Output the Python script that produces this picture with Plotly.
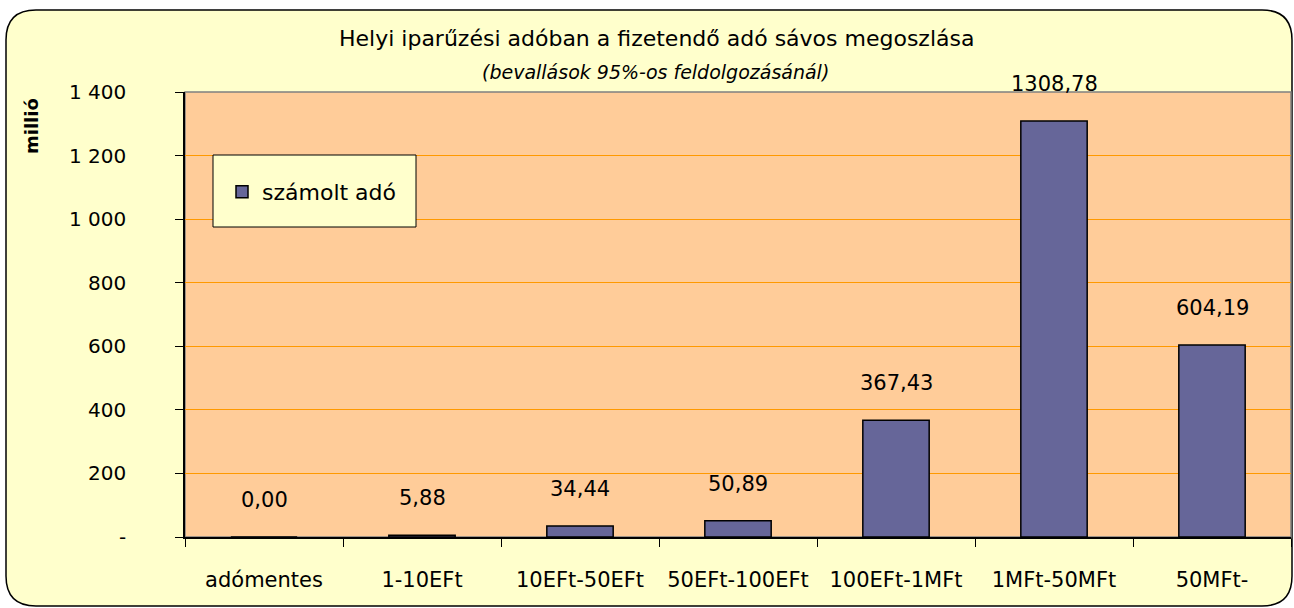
import plotly.graph_objects as go

categories = ["adómentes", "1-10EFt", "10EFt-50EFt", "50EFt-100EFt", "100EFt-1MFt", "1MFt-50MFt", "50MFt-"]
values = [0.00, 5.88, 34.44, 50.89, 367.43, 1308.78, 604.19]
value_labels = ["0,00", "5,88", "34,44", "50,89", "367,43", "1308,78", "604,19"]
y_tickvals = [0, 200, 400, 600, 800, 1000, 1200, 1400]
y_ticktext = ["-", "200", "400", "600", "800", "1 000", "1 200", "1 400"]
series_name = "számolt adó"
title = "Helyi iparűzési adóban a fizetendő adó sávos megoszlása"
subtitle = "(bevallások 95%-os feldolgozásánál)"
y_title = "millió"

W, H = 1294, 608
L, R, T, B = 185, 1291, 92, 537
FONT = "DejaVu Sans"


def px(x):
    return (x - L) / (R - L)


def py(y):
    return (B - y) / (B - T)


fig = go.Figure()
fig.add_trace(go.Bar(
    x=categories, y=values, name=series_name, width=0.42,
    marker=dict(color="#666699", line=dict(color="black", width=1.5)),
    showlegend=True,
))

annotations = []
for c, v, t in zip(categories, values, value_labels):
    annotations.append(dict(x=c, y=v, xref="x", yref="y", text=t, showarrow=False,
                            yanchor="middle", xanchor="center",
                            yshift=37, font=dict(family=FONT, size=21, color="black")))
annotations.append(dict(x=px(656), y=py(38), xref="paper", yref="paper", text=title,
                        xanchor="center", yanchor="middle",
                        showarrow=False, font=dict(family=FONT, size=22, color="black")))
annotations.append(dict(x=px(655), y=py(72), xref="paper", yref="paper", text="<i>" + subtitle + "</i>",
                        xanchor="center", yanchor="middle",
                        showarrow=False, font=dict(family=FONT, size=19, color="black")))
annotations.append(dict(x=px(31), y=py(126), xref="paper", yref="paper", text="<b>" + y_title + "</b>",
                        xanchor="center", yanchor="middle",
                        textangle=-90, showarrow=False, font=dict(family=FONT, size=18, color="black")))

# rounded outer frame
x0, x1, y0, y1 = px(6), px(1292), py(606), py(10)
r = 30
rx, ry = r / (R - L), r / (B - T)
path = (f"M {x0+rx},{y1} L {x1-rx},{y1} Q {x1},{y1} {x1},{y1-ry} "
        f"L {x1},{y0+ry} Q {x1},{y0} {x1-rx},{y0} "
        f"L {x0+rx},{y0} Q {x0},{y0} {x0},{y0+ry} "
        f"L {x0},{y1-ry} Q {x0},{y1} {x0+rx},{y1} Z")
shapes = [
    dict(type="path", path=path, xref="paper", yref="paper", fillcolor="#FFFFCC",
         line=dict(color="black", width=1.5), layer="below"),
    dict(type="rect", x0=0, x1=1, y0=0, y1=1, xref="paper", yref="paper",
         fillcolor="#FFCC99", line=dict(color="#808080", width=1.5), layer="below"),
    dict(type="rect", x0=px(213), x1=px(416), y0=py(227), y1=py(155), xref="paper", yref="paper",
         fillcolor="#FFFFCC", line=dict(color="black", width=1), layer="above"),
]

fig.update_layout(
    width=W, height=H,
    margin=dict(l=L, r=W - R, t=T, b=H - B),
    paper_bgcolor="white",
    plot_bgcolor="rgba(0,0,0,0)",
    font=dict(family=FONT, size=20, color="black"),
    shapes=shapes,
    annotations=annotations,
    showlegend=True,
    legend=dict(x=px(222), y=py(171), xanchor="left", yanchor="top",
                bgcolor="rgba(0,0,0,0)", borderwidth=0,
                font=dict(family=FONT, size=22, color="black")),
    xaxis=dict(type="category", tickson="boundaries", ticks="outside", ticklen=8,
               tickcolor="black", showline=True, linecolor="black", linewidth=1.5,
               showgrid=False, ticklabelstandoff=23,
               tickfont=dict(family=FONT, size=21, color="black")),
    yaxis=dict(range=[0, 1400], tickvals=y_tickvals, ticktext=y_ticktext,
               ticks="outside", ticklen=8, tickcolor="black",
               showline=True, linecolor="black", linewidth=1.5,
               showgrid=True, gridcolor="#FF9900", gridwidth=1,
               zeroline=False, ticklabelstandoff=45,
               tickfont=dict(family=FONT, size=20, color="black")),
)

fig.write_html("out.html", config={"displayModeBar": False},
               post_script="document.body.style.margin='0px';")
